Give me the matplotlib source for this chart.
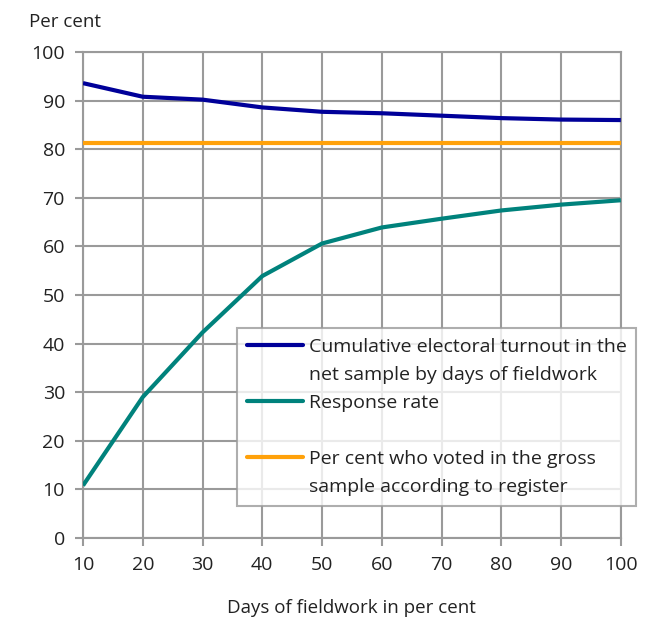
import matplotlib
matplotlib.use('Agg')
import matplotlib.pyplot as plt
from matplotlib.lines import Line2D

# — DATA —
days = [10, 20, 30, 40, 50, 60, 70, 80, 90, 100]
turnout_net = [93.6, 90.8, 90.2, 88.6, 87.7, 87.4, 86.9, 86.4, 86.1, 86.0]
response_rate = [10.8, 29.0, 42.3, 53.9, 60.6, 63.9, 65.7, 67.4, 68.6, 69.5]
register_turnout = 81.2

lab_turnout = ['Cumulative electoral turnout in the', 'net sample by days of fieldwork']
lab_response = ['Response rate', '']
lab_register = ['Per cent who voted in the gross', 'sample according to register']

BLUE = '#000099'
TEAL = '#00827C'
ORANGE = '#FFA10A'
GRID = '#9a9a9a'
TXT = '#222222'

plt.rcParams['font.family'] = ['Open Sans', 'DejaVu Sans']

fig = plt.figure(figsize=(6.64, 6.23), dpi=100)
ax = fig.add_axes([0.125, 0.1364, 0.81, 0.7801])

ax.plot(days, turnout_net, color=BLUE, lw=3, solid_capstyle='butt', zorder=3)
ax.plot(days, response_rate, color=TEAL, lw=3, solid_capstyle='butt', zorder=3)
ax.plot(days, [register_turnout] * len(days), color=ORANGE, lw=3, solid_capstyle='butt', zorder=3)

ax.set_xlim(10, 100)
ax.set_ylim(0, 100)
ax.set_xticks(days)
ax.set_yticks(range(0, 101, 10))
ax.grid(True, color=GRID, lw=1.5)
ax.set_axisbelow(True)
for s in ax.spines.values():
    s.set_color(GRID)
    s.set_linewidth(1.5)
ax.tick_params(colors=GRID, labelcolor=TXT, labelsize=14, length=6, width=1.5, pad=7)

ax.set_xlabel('Days of fieldwork in per cent', fontsize=13.5, color=TXT, labelpad=18)
fig.text(29 / 664, 1 - 22 / 623, 'Per cent', fontsize=13.5, color=TXT, va='center', ha='left')

# legend: one row per text line, handles only on the first line of each entry
handles, labels = [], []
for col, lines in [(BLUE, lab_turnout), (TEAL, lab_response), (ORANGE, lab_register)]:
    handles.append(Line2D([], [], color=col, lw=3, solid_capstyle='round'))
    labels.append(lines[0])
    handles.append(Line2D([], [], color='none'))
    labels.append(lines[1])

leg = ax.legend(handles, labels, loc='upper left', bbox_to_anchor=(0.286, 0.432),
                fontsize=14, frameon=True, fancybox=False, handlelength=2.9,
                handletextpad=0.3, labelspacing=0.52, borderpad=0.5, borderaxespad=0)
leg.get_frame().set_edgecolor(GRID)
leg.get_frame().set_linewidth(1.5)
for t in leg.get_texts():
    t.set_color(TXT)

fig.savefig('out.png', dpi=100)
